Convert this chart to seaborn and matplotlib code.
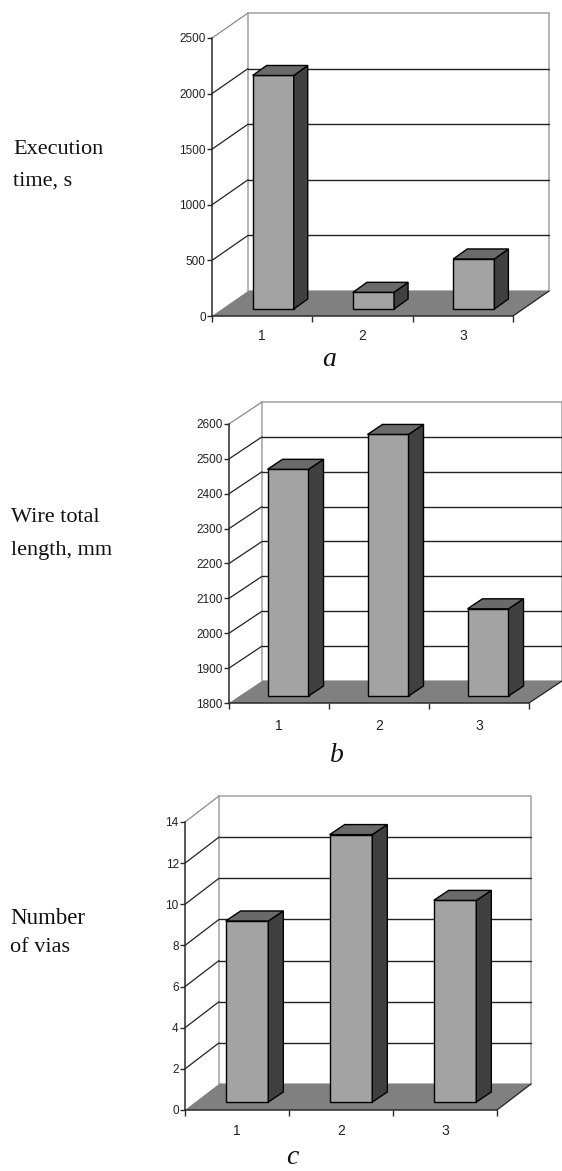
import matplotlib
matplotlib.use("Agg")
import matplotlib.pyplot as plt
import seaborn as sns
from matplotlib.patches import Polygon, Rectangle
from matplotlib.transforms import Affine2D

# values
runs = ["1", "2", "3"]
exec_time = [2100, 150, 450]
wire_length = [2450, 2550, 2050]
vias = [8.8, 13, 9.8]

exec_ticks = [0, 500, 1000, 1500, 2000, 2500]
wire_ticks = [1800, 1900, 2000, 2100, 2200, 2300, 2400, 2500, 2600]
vias_ticks = [0, 2, 4, 6, 8, 10, 12, 14]

W, H = 562, 1171
BAR = "#a3a3a3"
SIDE = "#404040"
TOP = "#6a6a6a"
FLOOR = "#808080"
WALL = "#a0a0a0"
DARK = "#2a2a2a"

sns.set_theme(style="white")
plt.rcParams["font.family"] = ["Liberation Sans", "DejaVu Sans"]

fig = plt.figure(figsize=(W / 100, H / 100), dpi=100, facecolor="white")


def panel(values, ticks, left, right, top, bottom, depth, bar_shift, bar_depth, xpad):
    ax = fig.add_axes([left / W, 1 - bottom / H, (right - left) / W, (bottom - top) / H])
    ax.patch.set_alpha(0)
    sns.barplot(x=runs, y=values, color=BAR, saturation=1, width=0.41,
                edgecolor="black", linewidth=1, ax=ax, zorder=5)
    ymin, ymax = ticks[0], ticks[-1]
    ax.set_xlim(-0.5, 2.5)
    ax.set_ylim(ymin, ymax)
    x0, x1 = ax.get_xlim()
    bars = list(ax.patches)

    # depth goes right and up on screen
    d = (depth[0], depth[1])
    back = ax.transData + Affine2D().translate(*d)

    # floor and back wall
    p0 = ax.transData.transform((x0, ymin))
    p1 = ax.transData.transform((x1, ymin))
    ax.add_patch(Polygon([p0, p1, p1 + d, p0 + d], transform=None, facecolor=FLOOR,
                         edgecolor="none", clip_on=False, zorder=2))
    ax.add_patch(Rectangle((x0, ymin), x1 - x0, ymax - ymin, transform=back, fill=False,
                           edgecolor=WALL, linewidth=1.1, clip_on=False, zorder=1))

    # gridlines on the back wall and on the left wall
    for t in ticks[1:-1]:
        ax.plot([x0, x1], [t, t], color="#222222", lw=1.0, transform=back, clip_on=False, zorder=1.5)
    for t in ticks[1:]:
        a = ax.transData.transform((x0, t))
        col = "#8a8a8a" if t == ymax else "#222222"
        ax.plot([a[0], a[0] + d[0]], [a[1], a[1] + d[1]], color=col, lw=0.9,
                transform=None, clip_on=False, zorder=1.5)
    ax.plot([p1[0], p1[0] + d[0]], [p1[1], p1[1] + d[1]], color="#222222", lw=0.9,
            transform=None, clip_on=False, zorder=2.5)

    # bars: seaborn draws the front, the other two faces follow from each bar
    shift = Affine2D().translate(bar_shift[0], bar_shift[1])
    dd = (bar_depth[0], bar_depth[1])
    for bar, val in zip(bars, values):
        bar.set_y(ymin)
        bar.set_height(val - ymin)
        bar.set_clip_on(False)
        bar.set_transform(ax.transData + shift)
        xa, xb = bar.get_x(), bar.get_x() + bar.get_width()
        lb = shift.transform(ax.transData.transform((xb, ymin)))
        rt = shift.transform(ax.transData.transform((xb, val)))
        lt = shift.transform(ax.transData.transform((xa, val)))
        ax.add_patch(Polygon([lb, rt, rt + dd, lb + dd], transform=None, facecolor=SIDE,
                             edgecolor="black", linewidth=1, clip_on=False, zorder=5))
        ax.add_patch(Polygon([lt, rt, rt + dd, lt + dd], transform=None, facecolor=TOP,
                             edgecolor="black", linewidth=1, clip_on=False, zorder=5))

    # axes
    sns.despine(ax=ax, top=True, right=True)
    for s in ["left", "bottom"]:
        ax.spines[s].set_color(DARK)
        ax.spines[s].set_linewidth(1.1)
        ax.spines[s].set_zorder(6)
    ax.set_yticks(ticks)
    ax.set_yticklabels([str(t) for t in ticks])
    ax.set_xticks([0, 1, 2])
    ax.set_xticklabels(runs)
    ax.set_xticks([-0.5, 0.5, 1.5, 2.5], minor=True)
    ax.tick_params(axis="y", left=True, length=3.5, width=1, color=DARK, pad=1,
                   labelsize=8.5, labelcolor="#222222")
    ax.tick_params(axis="x", which="major", bottom=False, pad=xpad, labelsize=10, labelcolor="#222222")
    ax.tick_params(axis="x", which="minor", bottom=True, length=4, width=1, color=DARK)
    ax.set_xlabel("")
    ax.set_ylabel("")
    return ax


panel(exec_time, exec_ticks, 212, 513, 38, 316, (36, 25), (11, 7), (14, 10), 3.5)
panel(wire_length, wire_ticks, 229, 529, 424, 703, (33, 22), (9, 7), (15, 10), 5.5)
panel(vias, vias_ticks, 185, 497, 822, 1110, (34, 26), (10, 8), (15, 10), 4)


def label(x, y, s, **kw):
    fig.text(x / W, 1 - y / H, s, family="Liberation Serif", color="#111111", va="center", **kw)


label(13, 150, "Execution", size=16)
label(13, 181, "time, s", size=16)
label(11, 518, "Wire total", size=16)
label(11, 550, "length, mm", size=16)
label(10, 919, "Number", size=16.5)
label(10, 947, "of vias", size=16)
label(329, 360, "a", size=20, style="italic", ha="center")
label(337, 755, "b", size=20, style="italic", ha="center")
label(292, 1158, "c", size=20, style="italic", ha="center")

fig.savefig("out.png", dpi=100, facecolor="white")
